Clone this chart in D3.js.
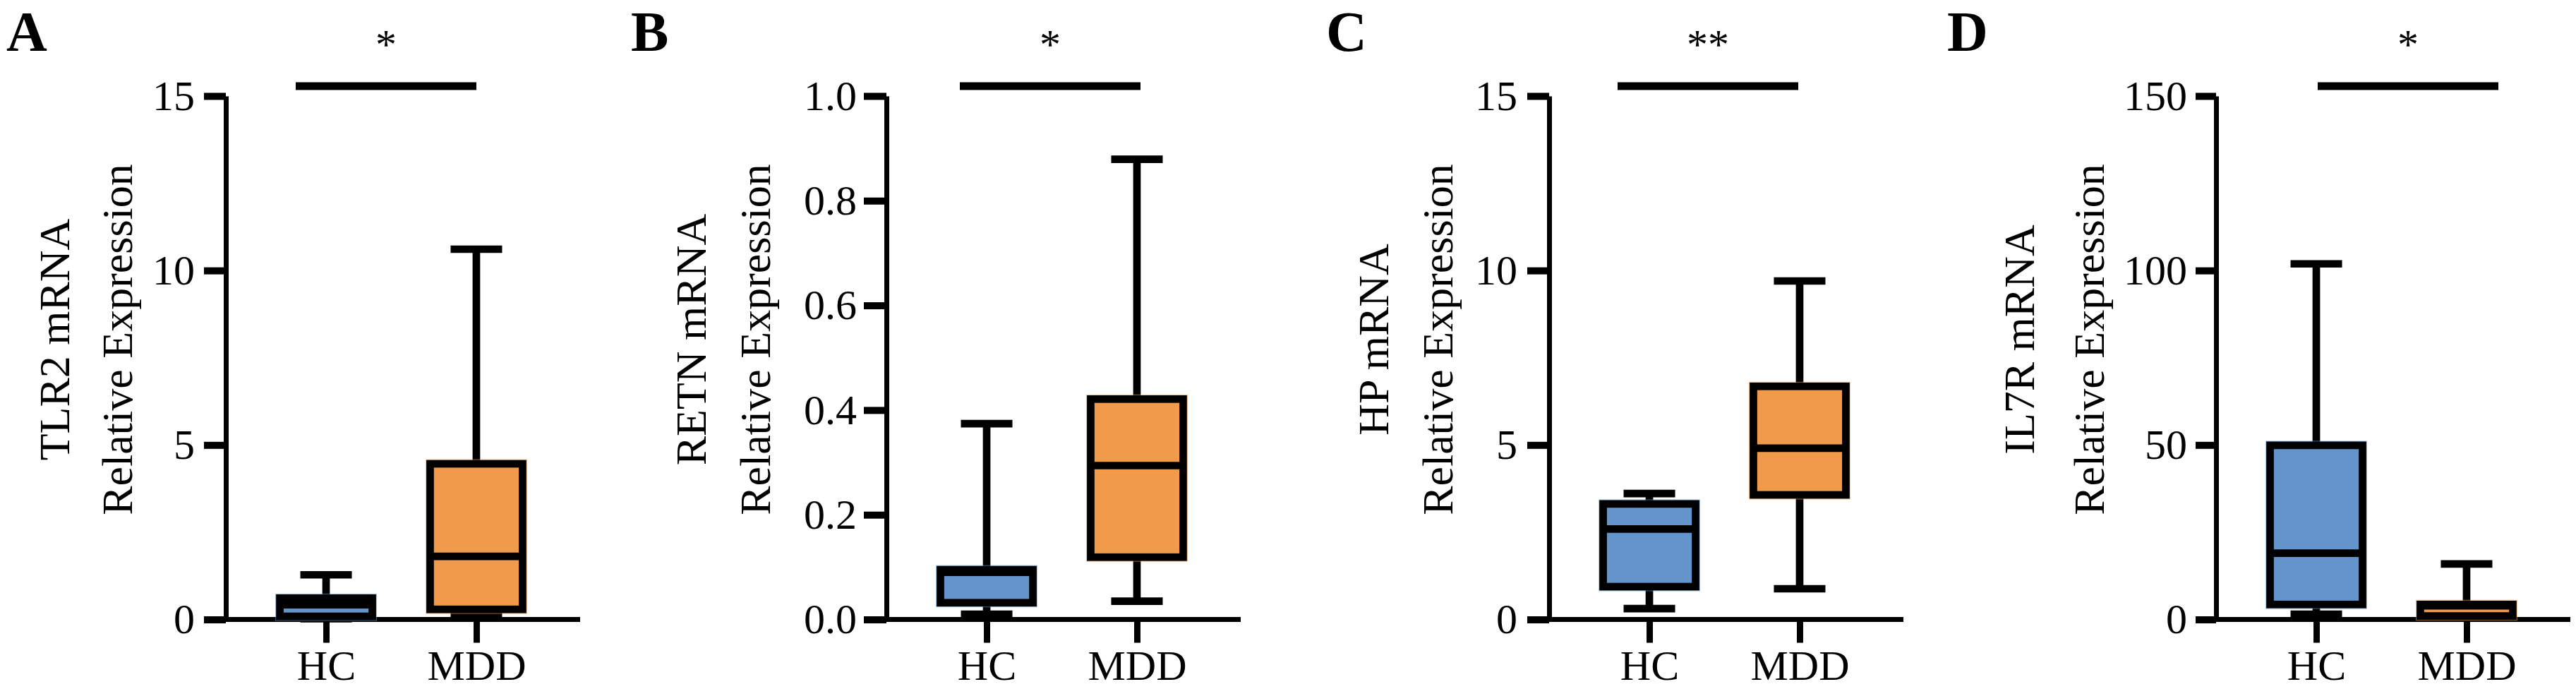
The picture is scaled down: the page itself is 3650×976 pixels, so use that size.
<!DOCTYPE html>
<html>
<head>
    <title>Relative mRNA expression, HC vs MDD</title>
    <script src="https://d3js.org/d3.v7.min.js"></script>
    <style>
        body {margin: 0; background: #ffffff;}
        svg {display: block; font-family: "Liberation Serif", "Times New Roman", serif;}
    </style>
</head>
<body>
<script>
    // ---- data ----
    const groups = ["HC", "MDD"];
    const panelLetters = ["A", "B", "C", "D"];
    const genes = ["TLR2", "RETN", "HP", "IL7R"];
    const yMax = [15, 1.0, 15, 150];
    const yTicks = [[0, 5, 10, 15], [0, 0.2, 0.4, 0.6, 0.8, 1.0], [0, 5, 10, 15], [0, 50, 100, 150]];
    const tickFormats = ["d", ".1f", "d", "d"];
    const sigLabels = ["*", "*", "**", "*"];
    // [min, q1, median, q3, max]
    const hcStats = [
        [0.02, 0.09, 0.42, 0.61, 1.28],
        [0.01, 0.032, 0.09, 0.095, 0.374],
        [0.31, 0.94, 2.59, 3.31, 3.61],
        [1.5, 4.3, 19.0, 49.9, 101.9]
    ];
    const mddStats = [
        [0.09, 0.29, 1.81, 4.46, 10.61],
        [0.035, 0.119, 0.294, 0.421, 0.879],
        [0.88, 3.57, 4.91, 6.68, 9.70],
        [0.4, 1.0, 3.9, 4.3, 15.9]
    ];
    const groupColors = ["#6394cc", "#ef9b4b"];

    // ---- layout ----
    const width = 3650, height = 976;
    const yZero = 877.5, yTop = 136;
    const axisX = [320, 1256, 2195, 3140];
    const axisLen = 502;
    const letterX = [9, 894, 1879, 2759];
    const titleOffsets = [[222, 133], [256, 165], [228, 137], [258, 159]];
    const tickSizes = [[31, 13], [32, 10], [31, 14], [29, 12]];
    const barStart = [99, 104, 97, 144];
    const barLen = 256;

    const svg = d3.select("body").append("svg")
        .attr("width", width)
        .attr("height", height);

    genes.forEach(function(gene, i) {
        const g = svg.append("g").attr("transform", "translate(" + axisX[i] + ",0)");

        const y = d3.scaleLinear().domain([0, yMax[i]]).range([yZero, yTop]);
        const x = d3.scalePoint().domain(groups).range([0, 497]).padding(0.667);

        // panel letter
        svg.append("text")
            .attr("x", letterX[i]).attr("y", 72)
            .attr("font-size", 80).attr("font-weight", "bold")
            .text(panelLetters[i]);

        // y axis
        const yAxis = g.append("g")
            .call(d3.axisLeft(y).tickValues(yTicks[i]).tickFormat(d3.format(tickFormats[i]))
                .tickSize(tickSizes[i][0]).tickSizeOuter(0).tickPadding(tickSizes[i][1]));
        yAxis.select(".domain").attr("stroke-width", 7);
        yAxis.selectAll(".tick line").attr("stroke-width", 10);
        yAxis.selectAll(".tick text").attr("font-size", 60).attr("font-family", "Liberation Serif").attr("fill", "#000");

        // x axis
        g.append("line")
            .attr("x1", 0).attr("x2", axisLen)
            .attr("y1", yZero).attr("y2", yZero)
            .attr("stroke", "#000").attr("stroke-width", 7);
        const xAxis = g.append("g").attr("transform", "translate(0," + yZero + ")")
            .call(d3.axisBottom(x).tickSize(33).tickSizeOuter(0).tickPadding(10));
        xAxis.select(".domain").remove();
        xAxis.selectAll(".tick line").attr("stroke-width", 9);
        xAxis.selectAll(".tick text").attr("font-size", 60).attr("font-family", "Liberation Serif").attr("fill", "#000");

        // y axis title, two lines
        const titleLines = [gene + " mRNA", "Relative Expression"];
        titleLines.forEach(function(t, k) {
            g.append("text")
                .attr("transform", "translate(" + (-titleOffsets[i][k]) + ",481) rotate(-90)")
                .attr("text-anchor", "middle")
                .attr("font-size", 62)
                .text(t);
        });

        // boxes
        const stats = [hcStats[i], mddStats[i]];
        const halfBox = 65.5, halfCap = 36.5, sw = 10.7;
        stats.forEach(function(s, j) {
            const cx = x(groups[j]);
            const bg = g.append("g");
            // whisker
            bg.append("line")
                .attr("x1", cx).attr("x2", cx)
                .attr("y1", y(s[0])).attr("y2", y(s[4]))
                .attr("stroke", "#000").attr("stroke-width", sw);
            [s[0], s[4]].forEach(function(v) {
                bg.append("line")
                    .attr("x1", cx - halfCap).attr("x2", cx + halfCap)
                    .attr("y1", y(v)).attr("y2", y(v))
                    .attr("stroke", "#000").attr("stroke-width", sw);
            });
            // fill (slightly larger than the outline, as in the original)
            bg.append("rect")
                .attr("x", cx - halfBox - 6.5).attr("y", y(s[3]) - 6.5)
                .attr("width", 2 * halfBox + 13).attr("height", y(s[1]) - y(s[3]) + 13)
                .attr("fill", groupColors[j]).attr("opacity", 0.55);
            bg.append("rect")
                .attr("x", cx - halfBox).attr("y", y(s[3]))
                .attr("width", 2 * halfBox).attr("height", y(s[1]) - y(s[3]))
                .attr("fill", groupColors[j])
                .attr("stroke", "#000").attr("stroke-width", sw);
            bg.append("line")
                .attr("x1", cx - halfBox).attr("x2", cx + halfBox)
                .attr("y1", y(s[2])).attr("y2", y(s[2]))
                .attr("stroke", "#000").attr("stroke-width", sw);
        });

        // significance bar
        g.append("line")
            .attr("x1", barStart[i]).attr("x2", barStart[i] + barLen)
            .attr("y1", 122).attr("y2", 122)
            .attr("stroke", "#000").attr("stroke-width", 11);
        g.append("text")
            .attr("x", barStart[i] + barLen / 2).attr("y", 83)
            .attr("text-anchor", "middle")
            .attr("font-size", 60)
            .text(sigLabels[i]);
    });
</script>
</body>
</html>
